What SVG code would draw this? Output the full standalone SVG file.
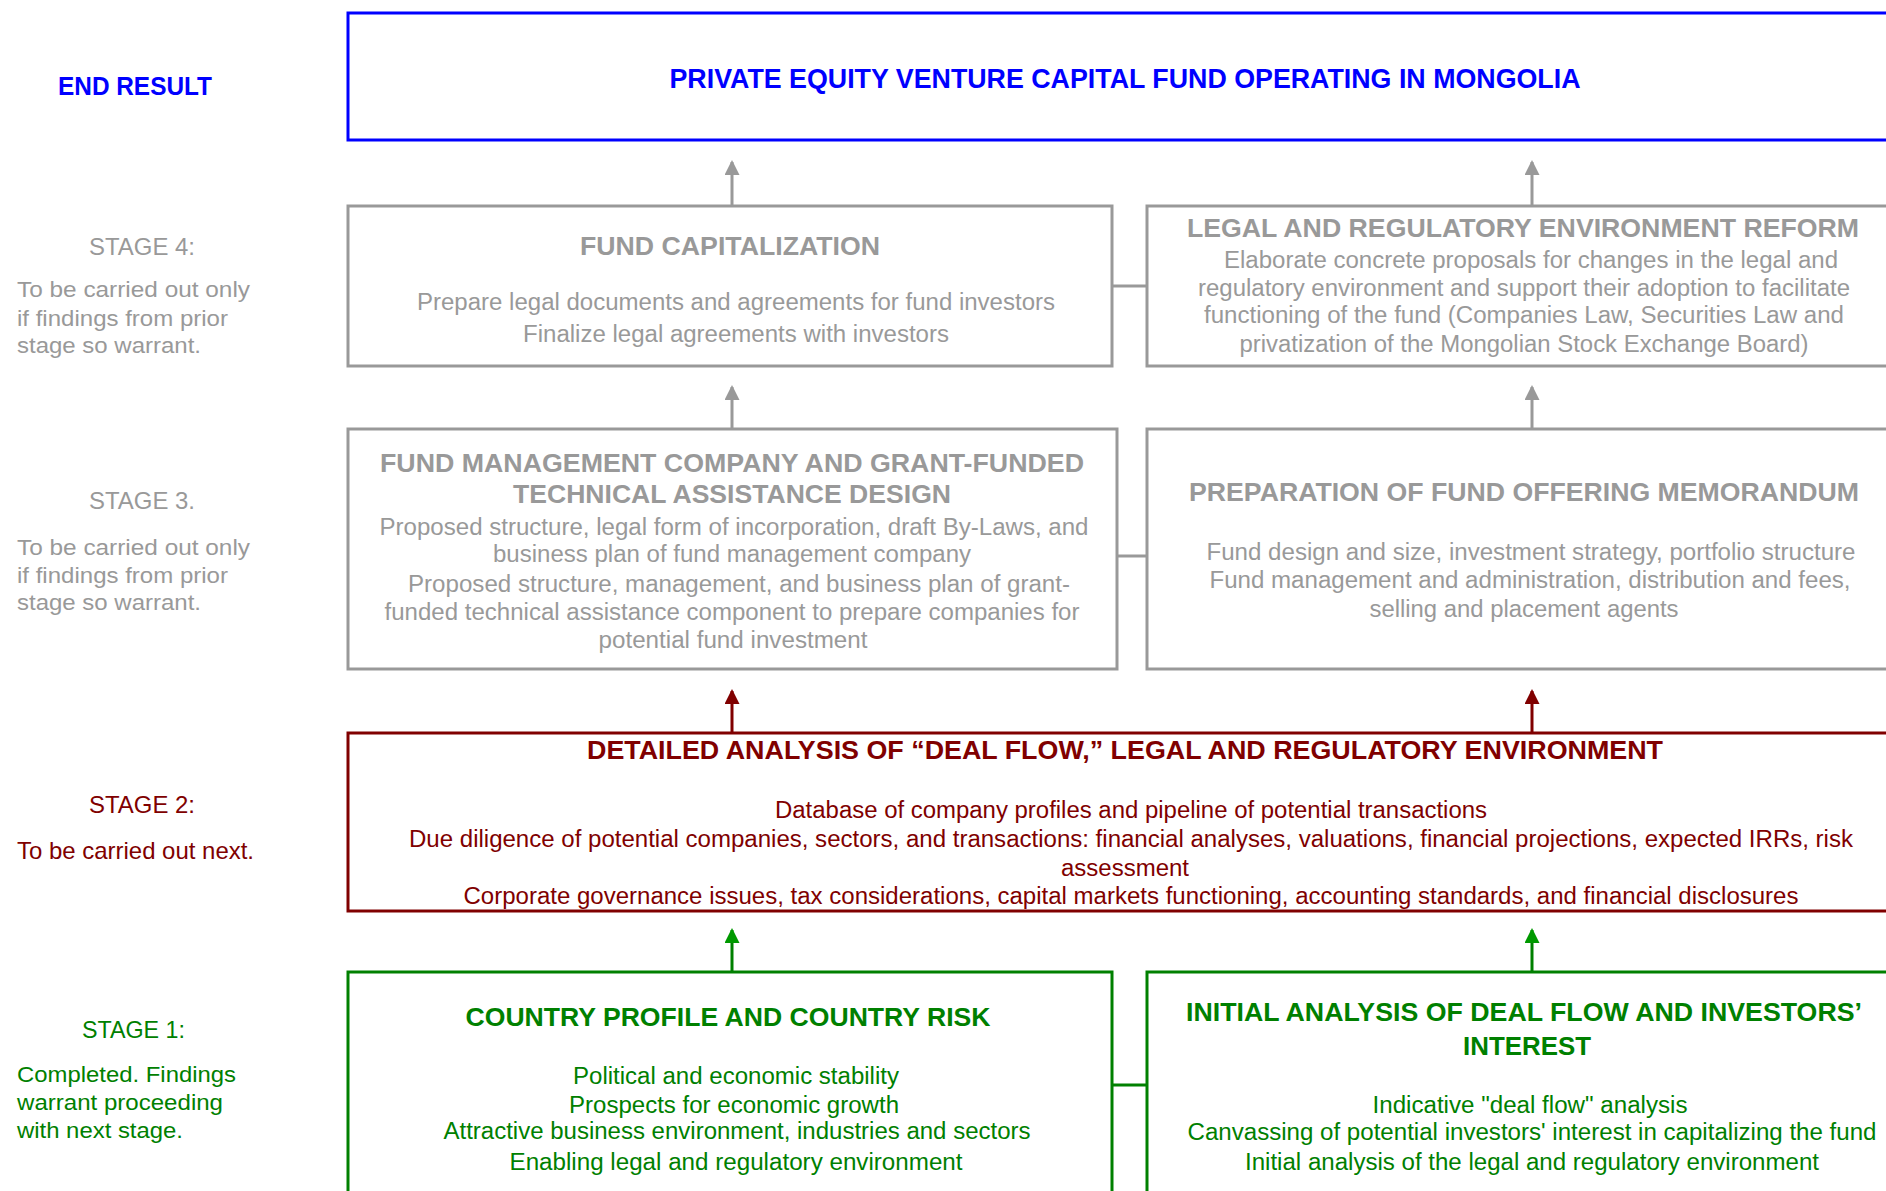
<svg xmlns="http://www.w3.org/2000/svg" width="1886" height="1191" viewBox="0 0 1886 1191">
<style>
text{font-family:"Liberation Sans",Arial,sans-serif;}
.t{font-weight:bold;font-size:25px;text-anchor:middle;}
.b{font-size:23px;text-anchor:middle;}
.l{font-size:22px;}
.s{font-size:24px;}
.box{fill:#ffffff;stroke-width:3;}
.blue{fill:#0000ff;} .gray{fill:#999999;} .red{fill:#800000;} .green{fill:#008000;}
.kblue{stroke:#0000ff;} .kgray{stroke:#999999;} .kred{stroke:#800000;} .kgreen{stroke:#008000;}
.ln{fill:none;stroke-width:3;}
</style>
<defs>
<marker id="ahGray" markerUnits="userSpaceOnUse" markerWidth="16" markerHeight="15" refX="13" refY="7.5" orient="auto"><path d="M0,0 L15,7.5 L0,15 z" fill="#999999"/></marker>
<marker id="ahRed" markerUnits="userSpaceOnUse" markerWidth="16" markerHeight="15" refX="13" refY="7.5" orient="auto"><path d="M0,0 L15,7.5 L0,15 z" fill="#800000"/></marker>
<marker id="ahGreen" markerUnits="userSpaceOnUse" markerWidth="16" markerHeight="15" refX="13" refY="7.5" orient="auto"><path d="M0,0 L15,7.5 L0,15 z" fill="#009900"/></marker>
</defs>
<rect width="1886" height="1191" fill="#ffffff"/>

<g id="stage-labels">
<text class="blue" x="58" y="95" style="font-weight:bold;font-size:25px" textLength="154" lengthAdjust="spacingAndGlyphs">END RESULT</text>
<text class="gray s" x="89" y="255" textLength="106" lengthAdjust="spacingAndGlyphs">STAGE 4:</text>
<text class="gray l" x="17" y="297" textLength="233" lengthAdjust="spacingAndGlyphs">To be carried out only</text>
<text class="gray l" x="17" y="326" textLength="211" lengthAdjust="spacingAndGlyphs">if findings from prior</text>
<text class="gray l" x="17" y="353" textLength="184" lengthAdjust="spacingAndGlyphs">stage so warrant.</text>
<text class="gray s" x="89" y="509" textLength="106" lengthAdjust="spacingAndGlyphs">STAGE 3.</text>
<text class="gray l" x="17" y="555" textLength="233" lengthAdjust="spacingAndGlyphs">To be carried out only</text>
<text class="gray l" x="17" y="583" textLength="211" lengthAdjust="spacingAndGlyphs">if findings from prior</text>
<text class="gray l" x="17" y="610" textLength="184" lengthAdjust="spacingAndGlyphs">stage so warrant.</text>
<text class="red s" x="89" y="813" textLength="106" lengthAdjust="spacingAndGlyphs">STAGE 2:</text>
<text class="red l" x="17" y="859" style="font-size:24px" textLength="237" lengthAdjust="spacingAndGlyphs">To be carried out next.</text>
<text class="green s" x="82" y="1038" textLength="103" lengthAdjust="spacingAndGlyphs">STAGE 1:</text>
<text class="green l" x="17" y="1082" textLength="219" lengthAdjust="spacingAndGlyphs">Completed. Findings</text>
<text class="green l" x="17" y="1110" textLength="206" lengthAdjust="spacingAndGlyphs">warrant proceeding</text>
<text class="green l" x="17" y="1138" textLength="166" lengthAdjust="spacingAndGlyphs">with next stage.</text>
</g>

<g id="connectors">
<line class="ln kgray" x1="732" y1="205" x2="732" y2="162" marker-end="url(#ahGray)"/>
<line class="ln kgray" x1="1532" y1="205" x2="1532" y2="162" marker-end="url(#ahGray)"/>
<line class="ln kgray" x1="732" y1="428" x2="732" y2="387" marker-end="url(#ahGray)"/>
<line class="ln kgray" x1="1532" y1="428" x2="1532" y2="387" marker-end="url(#ahGray)"/>
<line class="ln kred" x1="732" y1="732" x2="732" y2="691" marker-end="url(#ahRed)"/>
<line class="ln kred" x1="1532" y1="732" x2="1532" y2="691" marker-end="url(#ahRed)"/>
<line class="ln kgreen" x1="732" y1="971" x2="732" y2="930" marker-end="url(#ahGreen)"/>
<line class="ln kgreen" x1="1532" y1="971" x2="1532" y2="930" marker-end="url(#ahGreen)"/>
<line class="ln kgray" x1="1112" y1="286" x2="1147" y2="286"/>
<line class="ln kgray" x1="1117" y1="556" x2="1147" y2="556"/>
<line class="ln kgreen" x1="1112" y1="1085" x2="1147" y2="1085"/>
</g>

<g id="end-result">
<rect class="box kblue" x="348" y="13" width="1552" height="127"/>
<text class="t blue" x="1125" y="88" style="font-size:27px" textLength="911" lengthAdjust="spacingAndGlyphs">PRIVATE EQUITY VENTURE CAPITAL FUND OPERATING IN MONGOLIA</text>
</g>

<g id="fund-capitalization">
<rect class="box kgray" x="348" y="206" width="764" height="160"/>
<text class="t gray" x="730" y="255" textLength="300" lengthAdjust="spacingAndGlyphs">FUND CAPITALIZATION</text>
<text class="b gray" x="736" y="310" textLength="638" lengthAdjust="spacingAndGlyphs">Prepare legal documents and agreements for fund investors</text>
<text class="b gray" x="736" y="342" textLength="426" lengthAdjust="spacingAndGlyphs">Finalize legal agreements with investors</text>
</g>

<g id="legal-reform">
<rect class="box kgray" x="1147" y="206" width="753" height="160"/>
<text class="t gray" x="1523" y="237" textLength="672" lengthAdjust="spacingAndGlyphs">LEGAL AND REGULATORY ENVIRONMENT REFORM</text>
<text class="b gray" x="1531" y="268" textLength="614" lengthAdjust="spacingAndGlyphs">Elaborate concrete proposals for changes in the legal and</text>
<text class="b gray" x="1524" y="296" textLength="652" lengthAdjust="spacingAndGlyphs">regulatory environment and support their adoption to facilitate</text>
<text class="b gray" x="1524" y="323" textLength="640" lengthAdjust="spacingAndGlyphs">functioning of the fund (Companies Law, Securities Law and</text>
<text class="b gray" x="1524" y="352" textLength="569" lengthAdjust="spacingAndGlyphs">privatization of the Mongolian Stock Exchange Board)</text>
</g>

<g id="fund-management-design">
<rect class="box kgray" x="348" y="429" width="769" height="240"/>
<text class="t gray" x="732" y="472" textLength="704" lengthAdjust="spacingAndGlyphs">FUND MANAGEMENT COMPANY AND GRANT-FUNDED</text>
<text class="t gray" x="732" y="503" textLength="438" lengthAdjust="spacingAndGlyphs">TECHNICAL ASSISTANCE DESIGN</text>
<text class="b gray" x="734" y="535" textLength="709" lengthAdjust="spacingAndGlyphs">Proposed structure, legal form of incorporation, draft By-Laws, and</text>
<text class="b gray" x="732" y="562" textLength="478" lengthAdjust="spacingAndGlyphs">business plan of fund management company</text>
<text class="b gray" x="739" y="592" textLength="662" lengthAdjust="spacingAndGlyphs">Proposed structure, management, and business plan of grant-</text>
<text class="b gray" x="732" y="620" textLength="695" lengthAdjust="spacingAndGlyphs">funded technical assistance component to prepare companies for</text>
<text class="b gray" x="733" y="648" textLength="269" lengthAdjust="spacingAndGlyphs">potential fund investment</text>
</g>

<g id="offering-memorandum">
<rect class="box kgray" x="1147" y="429" width="753" height="240"/>
<text class="t gray" x="1524" y="501" textLength="670" lengthAdjust="spacingAndGlyphs">PREPARATION OF FUND OFFERING MEMORANDUM</text>
<text class="b gray" x="1531" y="560" textLength="649" lengthAdjust="spacingAndGlyphs">Fund design and size, investment strategy, portfolio structure</text>
<text class="b gray" x="1530" y="588" textLength="641" lengthAdjust="spacingAndGlyphs">Fund management and administration, distribution and fees,</text>
<text class="b gray" x="1524" y="617" textLength="309" lengthAdjust="spacingAndGlyphs">selling and placement agents</text>
</g>

<g id="detailed-analysis">
<rect class="box kred" x="348" y="733" width="1552" height="178"/>
<text class="t red" x="1125" y="759" textLength="1076" lengthAdjust="spacingAndGlyphs">DETAILED ANALYSIS OF “DEAL FLOW,” LEGAL AND REGULATORY ENVIRONMENT</text>
<text class="b red" x="1131" y="818" textLength="712" lengthAdjust="spacingAndGlyphs">Database of company profiles and pipeline of potential transactions</text>
<text class="b red" x="1131" y="847" textLength="1444" lengthAdjust="spacingAndGlyphs">Due diligence of potential companies, sectors, and transactions: financial analyses, valuations, financial projections, expected IRRs, risk</text>
<text class="b red" x="1125" y="876" textLength="128" lengthAdjust="spacingAndGlyphs">assessment</text>
<text class="b red" x="1131" y="904" textLength="1335" lengthAdjust="spacingAndGlyphs">Corporate governance issues, tax considerations, capital markets functioning, accounting standards, and financial disclosures</text>
</g>

<g id="country-profile">
<rect class="box kgreen" x="348" y="972" width="764" height="240"/>
<text class="t green" x="728" y="1026" textLength="525" lengthAdjust="spacingAndGlyphs">COUNTRY PROFILE AND COUNTRY RISK</text>
<text class="b green" x="736" y="1084" textLength="326" lengthAdjust="spacingAndGlyphs">Political and economic stability</text>
<text class="b green" x="734" y="1113" textLength="330" lengthAdjust="spacingAndGlyphs">Prospects for economic growth</text>
<text class="b green" x="737" y="1139" textLength="587" lengthAdjust="spacingAndGlyphs">Attractive business environment, industries and sectors</text>
<text class="b green" x="736" y="1170" textLength="453" lengthAdjust="spacingAndGlyphs">Enabling legal and regulatory environment</text>
</g>

<g id="initial-analysis">
<rect class="box kgreen" x="1147" y="972" width="753" height="240"/>
<text class="t green" x="1524" y="1021" textLength="676" lengthAdjust="spacingAndGlyphs">INITIAL ANALYSIS OF DEAL FLOW AND INVESTORS’</text>
<text class="t green" x="1527" y="1055" textLength="128" lengthAdjust="spacingAndGlyphs">INTEREST</text>
<text class="b green" x="1530" y="1113" textLength="315" lengthAdjust="spacingAndGlyphs">Indicative "deal flow" analysis</text>
<text class="b green" x="1532" y="1140" textLength="689" lengthAdjust="spacingAndGlyphs">Canvassing of potential investors' interest in capitalizing the fund</text>
<text class="b green" x="1532" y="1170" textLength="574" lengthAdjust="spacingAndGlyphs">Initial analysis of the legal and regulatory environment</text>
</g>
</svg>
